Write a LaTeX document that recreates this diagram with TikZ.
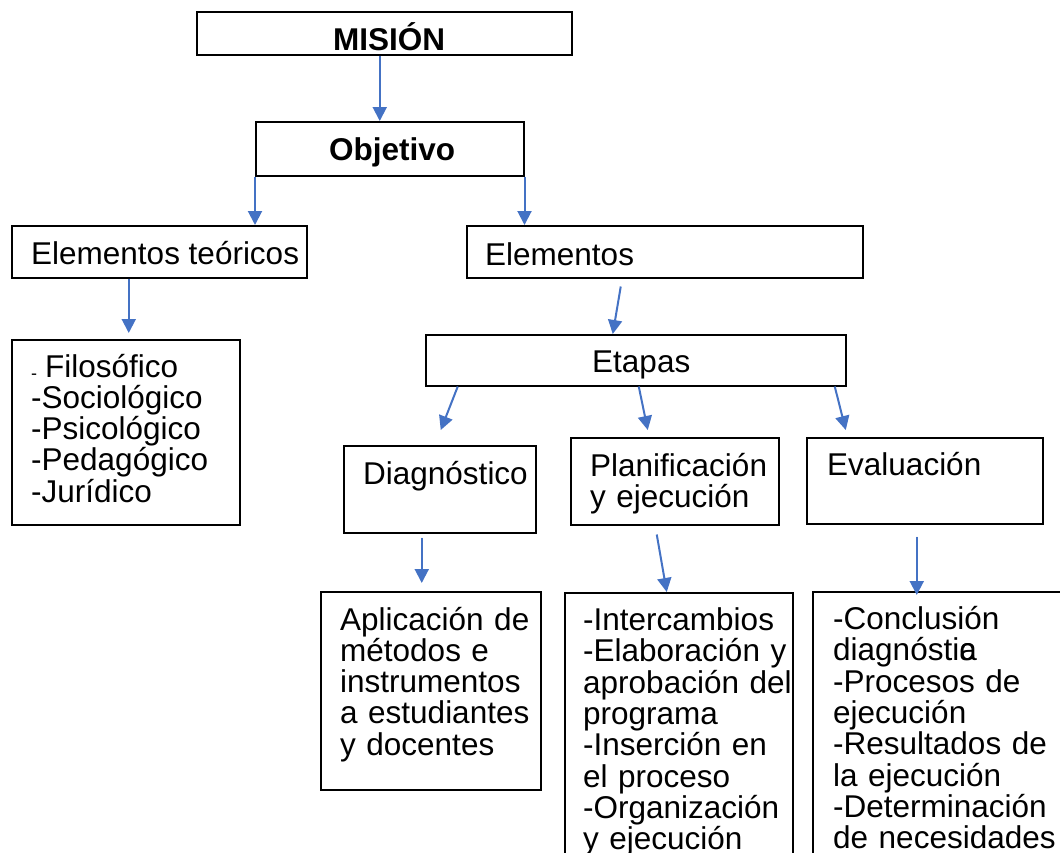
\documentclass[tikz,border=0pt]{standalone}
\usepackage{fontspec}
\setmainfont{Liberation Sans}
\usetikzlibrary{positioning,arrows.meta}
\definecolor{azul}{HTML}{4472C4}
\tikzset{>={Triangle[length=14pt,width=14pt]}}

\begin{document}
\begin{tikzpicture}[x=1pt,y=-1pt,
  caja/.style={draw,line width=1.5pt,inner sep=0pt,anchor=north west},
  txt/.style={inner sep=0pt,anchor=base west,font=\fontsize{31.5}{31.3}\selectfont},
  negrita/.style={txt,font=\fontsize{31.5}{31.3}\selectfont\bfseries},
  lista/.style={txt,text width=240pt,align=left},
  flecha/.style={-{Triangle[length=14pt,width=14pt]},draw=azul,fill=azul,line width=2pt}]
\useasboundingbox (0,0) rectangle (1060,852);
\clip (0,0) rectangle (1060,852);
% cajas
\node[caja,minimum width=375,minimum height=43] (mision) at (196,11) {};
\node[caja,minimum width=268,minimum height=54] (objetivo) at (255,121) {};
\node[caja,minimum width=295,minimum height=52] (teoricos) at (11,225) {};
\node[caja,minimum width=396,minimum height=52] (elementos) at (466,225) {};
\node[caja,minimum width=420,minimum height=51] (etapas) at (425,334) {};
\node[caja,minimum width=228,minimum height=185] (fundam) at (11,339) {};
\node[caja,minimum width=192,minimum height=87] (diag) at (343,445) {};
\node[caja,minimum width=208,minimum height=87] (plan) at (570,437) {};
\node[caja,minimum width=236,minimum height=86] (eval) at (806,437) {};
\node[caja,minimum width=220,minimum height=198] (aplic) at (320,591) {};
\node[caja,minimum width=228,minimum height=300] (interc) at (564,592) {};
\node[caja,minimum width=260,minimum height=300] (concl) at (812,591) {};
% textos
\node[negrita] (misionT) at (333,50) {MISIÓN};
\node[negrita] (objetivoT) at (329,160) {Objetivo};
\node[txt] (teoricosT) at (31,264) {Elementos teóricos};
\node[txt] (elementosT) at (485,265) {Elementos};
\node[txt] (etapasT) at (592,372) {Etapas};
\node[lista] (fundamT) at (31,377) {\makebox[14pt][l]{\fontsize{18}{18}\selectfont\raisebox{-2pt}{-}}Filosófico\\-Sociológico\\-Psicológico\\-Pedagógico\\-Jurídico};
\node[txt] (diagT) at (363,484) {Diagnóstico};
\node[lista] (planT) at (590,476) {Planificación\\y ejecución};
\node[txt] (evalT) at (827,475) {Evaluación};
\node[lista] (aplicT) at (340,630) {Aplicación de\\métodos e\\instrumentos\\a estudiantes\\y docentes};
\node[lista] (intercT) at (583,630.5) {-Intercambios\\-Elaboración y\\aprobación del\\programa\\-Inserción en\\el proceso\\-Organización\\y ejecución};
\node[lista] (conclT) at (833,629.5) {-Conclusión\\diagnósti\makebox[0pt][l]{c}a\\-Procesos de\\ejecución\\-Resultados de\\la ejecución\\-Determinación\\de necesidades};
% flechas
\draw[flecha] ([xshift=-4.5]mision.south) -- ([xshift=-10]objetivo.north);
\draw[flecha] (objetivo.south west) -- (objetivo.south west |- teoricos.north);
\draw[flecha] (objetivo.south east) -- (objetivo.south east |- elementos.north);
\draw[flecha,shorten >=6pt] ([xshift=-30.5]teoricos.south) -- ([xshift=-30.5]teoricos.south |- fundam.north);
\draw[flecha] ([xshift=-44,yshift=-8]elementos.south) -- ([xshift=-23]etapas.north);
\draw[flecha] ([xshift=-178]etapas.south) -- ([xshift=1,yshift=15]diag.north);
\draw[flecha] ([xshift=3]etapas.south) -- ([xshift=-27,yshift=7]plan.north);
\draw[flecha] ([xshift=199]etapas.south) -- ([xshift=-79,yshift=7]eval.north);
\draw[flecha] ([xshift=-18,yshift=-4]diag.south) -- ([xshift=-9,yshift=8]aplic.north);
\draw[flecha] ([xshift=-18,yshift=-9]plan.south) -- ([xshift=-12]interc.north);
\draw[flecha,shorten >=8pt] ([xshift=-8,yshift=-12]eval.south) -- ([xshift=-8,yshift=-12]eval.south |- concl.north);
\end{tikzpicture}
\end{document}
